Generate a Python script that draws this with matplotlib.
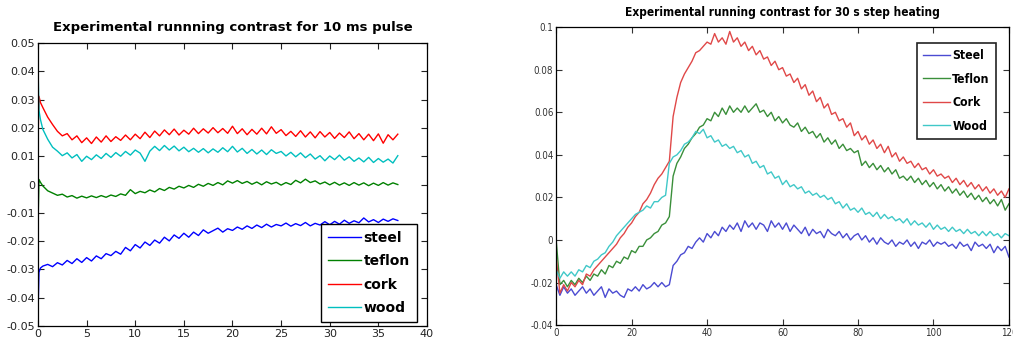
import numpy as np
import matplotlib.pyplot as plt
from matplotlib import font_manager

# left panel: 10 ms pulse, time axis
t_pulse = np.concatenate([[0, 0.1, 0.25], np.arange(0.5, 37.01, 0.5)])

steel_pulse = [
    -0.046, -0.031, -0.0295,
    -0.0288, -0.0282, -0.0290, -0.0276, -0.0284, -0.0268, -0.0279, -0.0262, -0.0275, -0.0258,
    -0.0270, -0.0252, -0.0262, -0.0244, -0.0251, -0.0236, -0.0246, -0.0222, -0.0234, -0.0212,
    -0.0224, -0.0203, -0.0215, -0.0196, -0.0207, -0.0186, -0.0199, -0.0178, -0.0190, -0.0172,
    -0.0186, -0.0168, -0.0180, -0.0160, -0.0172, -0.0163, -0.0154, -0.0168, -0.0156, -0.0162,
    -0.0150, -0.0158, -0.0146, -0.0155, -0.0143, -0.0152, -0.0140, -0.0150, -0.0141, -0.0146,
    -0.0136, -0.0147, -0.0138, -0.0145, -0.0134, -0.0146, -0.0137, -0.0143, -0.0131, -0.0142,
    -0.0130, -0.0140, -0.0126, -0.0137, -0.0128, -0.0135, -0.0118, -0.0132, -0.0124, -0.0134,
    -0.0122, -0.0130, -0.0121, -0.0127,
]
teflon_pulse = [
    -0.0145, 0.0018, 0.0008,
    -0.0005, -0.0022, -0.0030, -0.0038, -0.0034, -0.0044, -0.0039, -0.0048, -0.0041, -0.0047,
    -0.0040, -0.0046, -0.0039, -0.0045, -0.0037, -0.0042, -0.0033, -0.0038, -0.0018, -0.0032,
    -0.0024, -0.0029, -0.0019, -0.0026, -0.0014, -0.0021, -0.0010, -0.0016, -0.0006, -0.0012,
    -0.0003, -0.0010, 0.0001, -0.0006, 0.0004, -0.0003, 0.0007, -0.0001, 0.0013, 0.0005,
    0.0014, 0.0004, 0.0011, 0.0001, 0.0009, -0.0001, 0.0010, 0.0002, 0.0008, -0.0002,
    0.0007, 0.0000, 0.0015, 0.0006, 0.0019, 0.0007, 0.0013, 0.0002, 0.0009, -0.0001,
    0.0008, -0.0002, 0.0006, -0.0003, 0.0007, -0.0002, 0.0006, -0.0004, 0.0005, -0.0003,
    0.0007, -0.0002, 0.0006, 0.0000,
]
cork_pulse = [
    0.0148, 0.0312, 0.0290,
    0.0272, 0.0238, 0.0212, 0.0188, 0.0172, 0.0180, 0.0158, 0.0172, 0.0148, 0.0165,
    0.0145, 0.0168, 0.0150, 0.0172, 0.0152, 0.0169, 0.0156, 0.0175, 0.0158, 0.0178,
    0.0162, 0.0185, 0.0166, 0.0189, 0.0172, 0.0193, 0.0176, 0.0196, 0.0175, 0.0192,
    0.0178, 0.0199, 0.0180, 0.0197, 0.0182, 0.0201, 0.0183, 0.0198, 0.0181, 0.0206,
    0.0180, 0.0197, 0.0176, 0.0195, 0.0178, 0.0199, 0.0179, 0.0204, 0.0181, 0.0194,
    0.0173, 0.0188, 0.0170, 0.0190, 0.0168, 0.0186, 0.0165, 0.0187, 0.0168, 0.0184,
    0.0163, 0.0182, 0.0166, 0.0186, 0.0162, 0.0180, 0.0158, 0.0178, 0.0155, 0.0179,
    0.0146, 0.0176, 0.0158, 0.0178,
]
wood_pulse = [
    0.0420, 0.0262, 0.0230,
    0.0195, 0.0160, 0.0132, 0.0118, 0.0102, 0.0112, 0.0094, 0.0106, 0.0082, 0.0100,
    0.0088, 0.0105, 0.0092, 0.0110, 0.0096, 0.0113, 0.0100, 0.0117, 0.0104, 0.0122,
    0.0111, 0.0082, 0.0118, 0.0135, 0.0120, 0.0138, 0.0122, 0.0136, 0.0119, 0.0132,
    0.0116, 0.0128, 0.0114, 0.0127, 0.0112, 0.0126, 0.0114, 0.0130, 0.0116, 0.0135,
    0.0115, 0.0128, 0.0110, 0.0124, 0.0108, 0.0122, 0.0106, 0.0123, 0.0110, 0.0117,
    0.0101, 0.0114, 0.0098, 0.0112, 0.0095, 0.0108, 0.0090, 0.0102, 0.0084, 0.0101,
    0.0088, 0.0104, 0.0086, 0.0098, 0.0082, 0.0094, 0.0080, 0.0096, 0.0078, 0.0092,
    0.0079, 0.0090, 0.0076, 0.0102,
]

# right panel: 30 s step heating, one sample per second
t_step = np.arange(0, 121)

steel_step = [
    -0.021, -0.026, -0.022, -0.025, -0.023, -0.026, -0.024, -0.022, -0.025, -0.023,
    -0.026, -0.024, -0.022, -0.027, -0.023, -0.025, -0.024, -0.026, -0.027, -0.023,
    -0.024, -0.022, -0.024, -0.021, -0.023, -0.022, -0.020, -0.022, -0.020, -0.022,
    -0.021, -0.012, -0.010, -0.007, -0.006, -0.003, -0.004, -0.001, 0.001, -0.001,
    0.003, 0.001, 0.004, 0.002, 0.006, 0.004, 0.007, 0.005, 0.008, 0.004,
    0.009, 0.006, 0.008, 0.005, 0.008, 0.007, 0.004, 0.009, 0.006, 0.008,
    0.005, 0.008, 0.004, 0.007, 0.005, 0.003, 0.006, 0.002, 0.005, 0.003,
    0.004, 0.001, 0.005, 0.003, 0.002, 0.004, 0.001, 0.003, 0.000, 0.002,
    0.003, 0.000, 0.002, -0.001, 0.001, -0.002, 0.001, -0.001, -0.002, 0.000,
    -0.003, -0.001, -0.002, 0.000, -0.003, -0.001, -0.004, -0.001, -0.002, 0.000,
    -0.003, -0.001, -0.002, -0.001, -0.003, -0.002, -0.004, -0.001, -0.003, -0.002,
    -0.005, -0.001, -0.003, -0.002, -0.004, -0.002, -0.006, -0.003, -0.005, -0.003,
    -0.008,
]
teflon_step = [
    0.000, -0.021, -0.019, -0.022, -0.019, -0.021, -0.018, -0.020, -0.017, -0.019,
    -0.016, -0.017, -0.014, -0.016, -0.012, -0.013, -0.010, -0.011, -0.008, -0.009,
    -0.005, -0.006, -0.003, -0.003, 0.000, 0.001, 0.003, 0.004, 0.007, 0.008,
    0.011, 0.030, 0.036, 0.039, 0.043, 0.045, 0.048, 0.050, 0.053, 0.054,
    0.057, 0.056, 0.060, 0.058, 0.062, 0.059, 0.063, 0.060, 0.062, 0.060,
    0.063, 0.060, 0.062, 0.064, 0.060, 0.061, 0.058, 0.060, 0.056, 0.058,
    0.055, 0.057, 0.054, 0.053, 0.055, 0.051, 0.053, 0.050, 0.051, 0.048,
    0.050, 0.046, 0.048, 0.045, 0.047, 0.043, 0.045, 0.042, 0.043, 0.041,
    0.042, 0.035, 0.037, 0.034, 0.036, 0.033, 0.035, 0.032, 0.034, 0.031,
    0.033, 0.029, 0.030, 0.028, 0.030, 0.027, 0.029, 0.026, 0.028, 0.025,
    0.027, 0.024, 0.026, 0.023, 0.025, 0.022, 0.024, 0.021, 0.023, 0.020,
    0.022, 0.019, 0.021, 0.018, 0.020, 0.017, 0.019, 0.016, 0.019, 0.014,
    0.017,
]
cork_step = [
    -0.008, -0.025, -0.021, -0.024, -0.020, -0.022, -0.019, -0.021, -0.016, -0.017,
    -0.014, -0.012, -0.010, -0.008, -0.006, -0.004, -0.002, 0.001, 0.003, 0.006,
    0.008, 0.011, 0.013, 0.017, 0.019, 0.022, 0.026, 0.029, 0.031, 0.034,
    0.037, 0.058, 0.067, 0.074, 0.078, 0.081, 0.084, 0.088, 0.089, 0.091,
    0.093, 0.092, 0.097, 0.093, 0.095, 0.092, 0.098, 0.093, 0.095, 0.091,
    0.093, 0.089, 0.091, 0.087, 0.089, 0.085, 0.086, 0.082, 0.084, 0.080,
    0.081, 0.077, 0.078, 0.074, 0.076, 0.071, 0.073, 0.068, 0.070, 0.065,
    0.067, 0.062, 0.064, 0.059, 0.060, 0.056, 0.057, 0.053, 0.055, 0.049,
    0.051, 0.047, 0.049, 0.045, 0.047, 0.043, 0.045, 0.041, 0.044, 0.039,
    0.041, 0.037, 0.039, 0.036, 0.037, 0.034, 0.036, 0.033, 0.034, 0.031,
    0.033, 0.030, 0.031, 0.029, 0.030, 0.027, 0.029, 0.026, 0.028, 0.025,
    0.027, 0.024, 0.026, 0.023, 0.025, 0.022, 0.024, 0.021, 0.023, 0.020,
    0.024,
]
wood_step = [
    -0.014, -0.018, -0.015, -0.017, -0.015, -0.017, -0.014, -0.015, -0.012, -0.013,
    -0.010, -0.009, -0.007, -0.006, -0.003, -0.001, 0.002, 0.004, 0.006, 0.008,
    0.010, 0.012, 0.013, 0.014, 0.016, 0.015, 0.018, 0.018, 0.020, 0.021,
    0.036, 0.039, 0.040, 0.042, 0.045, 0.046, 0.048, 0.051, 0.050, 0.052,
    0.048, 0.049, 0.046, 0.047, 0.044, 0.045, 0.043, 0.044, 0.041, 0.042,
    0.039, 0.040, 0.036, 0.037, 0.034, 0.035, 0.031, 0.032, 0.029, 0.030,
    0.026, 0.028, 0.025, 0.026, 0.024, 0.025, 0.022, 0.023, 0.021, 0.022,
    0.020, 0.021, 0.019, 0.020, 0.017, 0.018, 0.015, 0.017, 0.014, 0.015,
    0.013, 0.015, 0.012, 0.013, 0.011, 0.013, 0.010, 0.012, 0.010, 0.011,
    0.009, 0.010, 0.008, 0.010, 0.007, 0.009, 0.007, 0.008, 0.006, 0.008,
    0.005, 0.007, 0.005, 0.006, 0.004, 0.006, 0.004, 0.005, 0.003, 0.005,
    0.003, 0.004, 0.002, 0.004, 0.002, 0.004, 0.002, 0.003, 0.001, 0.003,
    0.002,
]

left_labels = ["steel", "teflon", "cork", "wood"]
right_labels = ["Steel", "Teflon", "Cork", "Wood"]
left_yticks = ["-0.05", "-0.04", "-0.03", "-0.02", "-0.01", "0", "0.01", "0.02", "0.03", "0.04", "0.05"]
right_yticks = ["-0.04", "-0.02", "0", "0.02", "0.04", "0.06", "0.08", "0.1"]

# narrow font for the right panel, the scanned one looks condensed
narrow = font_manager.FontProperties(family="DejaVu Sans", stretch="condensed", size=7)
narrow_title = font_manager.FontProperties(family="DejaVu Sans", stretch="condensed", weight="bold", size=8.6)
narrow_leg = font_manager.FontProperties(family="DejaVu Sans", stretch="condensed", weight="bold", size=8.8)

fig = plt.figure(figsize=(10.13, 3.44), dpi=100)

# ---- left plot
ax1 = fig.add_axes([0.0375, 0.052, 0.384, 0.823])
left_colors = ["#0000ff", "#008000", "#ff0000", "#00bfbf"]
for y, c, lab in zip([steel_pulse, teflon_pulse, cork_pulse, wood_pulse], left_colors, left_labels):
    ax1.plot(t_pulse, y, color=c, lw=1.0, label=lab)
ax1.set_xlim(0, 40)
ax1.set_ylim(-0.05, 0.05)
ax1.set_xticks(np.arange(0, 41, 5))
ax1.set_yticks(np.linspace(-0.05, 0.05, 11))
ax1.set_yticklabels(left_yticks)
ax1.tick_params(direction="in", top=True, right=True, labelsize=8, length=4, pad=2, colors="#222222")
ax1.set_title("Experimental runnning contrast for 10 ms pulse", fontsize=9.5, fontweight="bold", pad=9)
leg1 = ax1.legend(loc="lower right", bbox_to_anchor=(0.974, 0.014), borderaxespad=0, fancybox=False,
                  framealpha=1, edgecolor="black", prop={"weight": "bold", "size": 10},
                  handlelength=2.4, handletextpad=0.2, borderpad=0.5, labelspacing=0.68)
leg1.get_frame().set_linewidth(1.0)

# ---- right plot
ax2 = fig.add_axes([0.549, 0.055, 0.447, 0.866])
right_colors = ["#4b4bd2", "#3a8f3a", "#e04848", "#40c8c8"]
for y, c, lab in zip([steel_step, teflon_step, cork_step, wood_step], right_colors, right_labels):
    ax2.plot(t_step, y, color=c, lw=1.0, label=lab)
ax2.set_xlim(0, 120)
ax2.set_ylim(-0.04, 0.1)
ax2.set_xticks(np.arange(0, 121, 20))
ax2.set_yticks(np.linspace(-0.04, 0.1, 8))
ax2.set_yticklabels(right_yticks)
ax2.tick_params(direction="in", top=True, right=True, length=4, pad=2, colors="#333333")
for lbl in ax2.get_xticklabels() + ax2.get_yticklabels():
    lbl.set_fontproperties(narrow)
ax2.set_title("Experimental running contrast for 30 s step heating", fontproperties=narrow_title, pad=8)
leg2 = ax2.legend(loc="upper right", bbox_to_anchor=(0.971, 0.946), borderaxespad=0, fancybox=False,
                  framealpha=1, edgecolor="#222222", prop=narrow_leg,
                  handlelength=2.2, handletextpad=0.2, borderpad=0.5, labelspacing=0.85)
leg2.get_frame().set_linewidth(1.2)

for ax in (ax1, ax2):
    for s in ax.spines.values():
        s.set_linewidth(0.9)

fig.savefig("out.png", dpi=100)
